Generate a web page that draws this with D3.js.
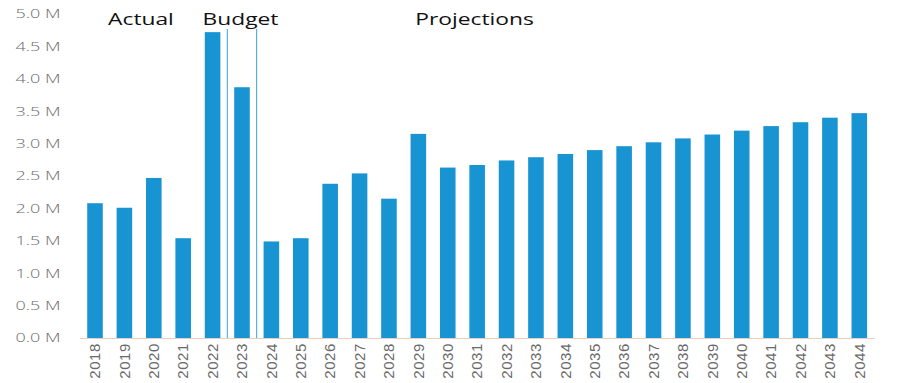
<!DOCTYPE html>
<html><head><meta charset="utf-8">
<script src="https://cdn.jsdelivr.net/npm/d3@7"></script>
<style>body{margin:0;background:#fff}svg{display:block}</style>
</head><body>
<svg id="c" width="898" height="383"></svg>
<script>
const years = ["2018","2019","2020","2021","2022","2023","2024","2025","2026","2027","2028","2029","2030","2031","2032","2033","2034","2035","2036","2037","2038","2039","2040","2041","2042","2043","2044"];
const values = [2.08,2.01,2.47,1.54,4.72,3.87,1.49,1.54,2.38,2.54,2.15,3.15,2.63,2.67,2.74,2.79,2.84,2.90,2.96,3.02,3.08,3.14,3.20,3.27,3.33,3.40,3.47];
const yTicks = [0,0.5,1,1.5,2,2.5,3,3.5,4,4.5,5];
const dividerAfter = ["2022","2023"];
const sectionLabels = [{text:"Actual",x:141},{text:"Budget",x:240.5},{text:"Projections",x:474.5}];

const svg = d3.select("#c");
const x = d3.scaleBand().domain(years).range([80.3, 874]).paddingInner(0.47).paddingOuter(0.235);
const y = d3.scaleLinear().domain([0,5]).range([338,14]);

// y axis labels (horizontally stretched like the reference)
svg.append("g").selectAll("text").data(yTicks).join("text")
  .attr("transform",d=>`translate(60.5,${y(d)}) scale(1.5,1)`)
  .attr("dy","0.36em").attr("text-anchor","end")
  .attr("font-family","'Open Sans', sans-serif").attr("font-weight",300).attr("font-size",12).attr("fill","#6a6a6a")
  .text(d=>d3.format(".1f")(d)+" M");

// bars
svg.append("g").selectAll("rect").data(years).join("rect")
  .attr("x",d=>x(d)).attr("width",x.bandwidth())
  .attr("y",(d,i)=>y(values[i])).attr("height",(d,i)=>y(0)-y(values[i]))
  .attr("fill","#1994d3");

// baseline
svg.append("line").attr("x1",80).attr("x2",875).attr("y1",y(0)+0.5).attr("y2",y(0)+0.5)
  .attr("stroke","#e6cfc2").attr("stroke-width",1);

// dividers
svg.append("g").selectAll("line").data(dividerAfter).join("line")
  .attr("x1",d=>x(d)+x.bandwidth()+x.step()*x.paddingInner()/2)
  .attr("x2",d=>x(d)+x.bandwidth()+x.step()*x.paddingInner()/2)
  .attr("y1",29).attr("y2",y(0))
  .attr("stroke","#3aa0d8").attr("stroke-width",1);

// x labels
svg.append("g").selectAll("text").data(years).join("text")
  .attr("transform",d=>`translate(${x(d)+x.bandwidth()/2},343) rotate(-90)`)
  .attr("dy","0.35em").attr("text-anchor","end")
  .attr("font-family","'Liberation Sans Narrow','Arial Narrow',sans-serif").attr("font-size",15).attr("letter-spacing","0.6px").attr("fill","#6a6a6a")
  .text(d=>d);

// section labels (horizontally stretched like the reference)
svg.append("g").selectAll("text").data(sectionLabels).join("text")
  .attr("transform",d=>`translate(${d.x},25) scale(1.38,1)`)
  .attr("text-anchor","middle")
  .attr("font-family","'Open Sans', sans-serif").attr("font-size",16.5).attr("fill","#111")
  .text(d=>d.text);
</script>
</body></html>
